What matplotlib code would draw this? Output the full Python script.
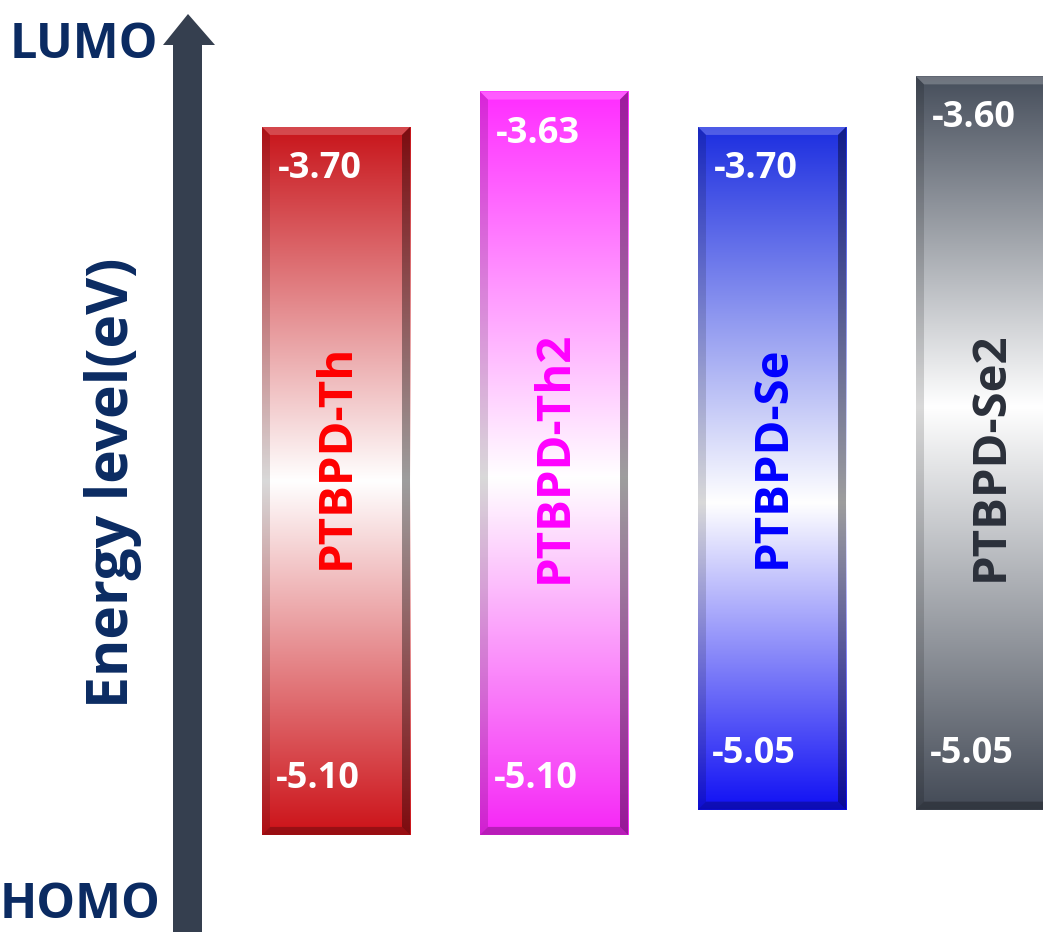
import numpy as np
import matplotlib
matplotlib.use("Agg")
import matplotlib.pyplot as plt
from matplotlib.patches import Polygon
from matplotlib.colors import to_rgb
import matplotlib.transforms as mtransforms

# ---------------- data ----------------
names = ["PTBPD-Th", "PTBPD-Th2", "PTBPD-Se", "PTBPD-Se2"]
lumo = [-3.70, -3.63, -3.70, -3.60]
homo = [-5.10, -5.10, -5.05, -5.05]
lumo_labels = ["-3.70", "-3.63", "-3.70", "-3.60"]
homo_labels = ["-5.10", "-5.10", "-5.05", "-5.05"]

# ---------------- style ----------------
bar_top_colors = ["#c8141a", "#ff2cff", "#1c2ee0", "#464e5b"]
bar_bot_colors = ["#cc1218", "#f626f6", "#1010f4", "#434a56"]
white_pos = [0.50, 0.52, 0.55, 0.45]   # fraction from the top where the bar turns white
name_colors = ["#ff0000", "#ff00ff", "#0000ff", "#2b303a"]
navy = "#0b2b62"
arrow_col = "#353f4f"
FONT = ["Open Sans", "DejaVu Sans"]

W, H = 1043, 932
fig = plt.figure(figsize=(W / 100, H / 100), dpi=100)
ax = fig.add_axes([0, 0, 1, 1])
XL = (-336 / 218.0, (W - 336) / 218.0)
YL = (-5.292, -3.449)
ax.set_xlim(*XL)
ax.set_ylim(*YL)
ax.axis("off")

bar_w = 0.679
xs = np.arange(len(names))
ppx = W / (XL[1] - XL[0])          # pixels per x-unit
ppy = H / (YL[1] - YL[0])          # pixels per eV


def gradient(top, bot, wp, n=400):
    t = np.linspace(0, 1, n)
    ct, cb, w = np.array(to_rgb(top)), np.array(to_rgb(bot)), np.ones(3)
    out = np.empty((n, 3))
    for i, tt in enumerate(t):
        if tt <= wp:
            a = tt / wp
            out[i] = ct * (1 - a) + w * a
        else:
            a = (tt - wp) / (1 - wp)
            out[i] = w * (1 - a) + cb * a
    return out[:, None, :]


trans = mtransforms.blended_transform_factory(ax.transData, ax.transAxes)
for i, x in enumerate(xs):
    x0, x1 = x - bar_w / 2, x + bar_w / 2
    y0, y1 = homo[i], lumo[i]
    img = gradient(bar_top_colors[i], bar_bot_colors[i], white_pos[i])
    ax.imshow(img, extent=[x0, x1, y0, y1], aspect="auto", origin="upper",
              interpolation="bilinear", zorder=2)
    # bevel
    bx, by = 8 / ppx, 8 / ppy
    ax.add_patch(Polygon([[x0, y1], [x1, y1], [x1 - bx, y1 - by], [x0 + bx, y1 - by]],
                         closed=True, facecolor="white", alpha=0.22, lw=0, zorder=3))
    ax.add_patch(Polygon([[x1, y1], [x1, y0], [x1 - bx, y0 + by], [x1 - bx, y1 - by]],
                         closed=True, facecolor="black", alpha=0.38, lw=0, zorder=3))
    ax.add_patch(Polygon([[x0, y1], [x0, y0], [x0 + bx, y0 + by], [x0 + bx, y1 - by]],
                         closed=True, facecolor="black", alpha=0.15, lw=0, zorder=3))
    ax.add_patch(Polygon([[x0, y0], [x1, y0], [x1 - bx, y0 + by], [x0 + bx, y0 + by]],
                         closed=True, facecolor="black", alpha=0.25, lw=0, zorder=3))
    # value labels
    ax.annotate(lumo_labels[i], xy=(x0, y1), xytext=(16, -42), textcoords="offset pixels",
                ha="left", va="center", color="white", fontsize=26, fontweight="bold",
                family=FONT, zorder=4)
    ax.annotate(homo_labels[i], xy=(x0, y0), xytext=(14, 56), textcoords="offset pixels",
                ha="left", va="center", color="white", fontsize=26, fontweight="bold",
                family=FONT, zorder=4)
    # name
    ax.text(x, 0.51, names[i], transform=trans, rotation=90, ha="center", va="center",
            color=name_colors[i], fontsize=34, fontweight="bold", family=FONT, zorder=4)

# arrow (figure pixel coordinates)
def fp(px, py):
    return (px / W, 1 - py / H)

arrow = [fp(173, 940), fp(173, 45), fp(163, 45), fp(188, 14), fp(215, 45),
         fp(202, 45), fp(202, 940)]
fig.patches.append(Polygon(arrow, closed=True, facecolor=arrow_col, edgecolor="none",
                           transform=fig.transFigure, figure=fig))

fig.text(158 / W, 1 - 46 / H, "LUMO", ha="right", va="center", color=navy,
         fontsize=35, fontweight="bold", family=FONT)
fig.text(160 / W, 1 - 906 / H, "HOMO", ha="right", va="center", color=navy,
         fontsize=35, fontweight="bold", family=FONT)
fig.text(113 / W, 1 - 483 / H, "Energy level(eV)", rotation=90, ha="center", va="center",
         color=navy, fontsize=41, fontweight="bold", family=FONT)

fig.savefig("out.png", dpi=100)
